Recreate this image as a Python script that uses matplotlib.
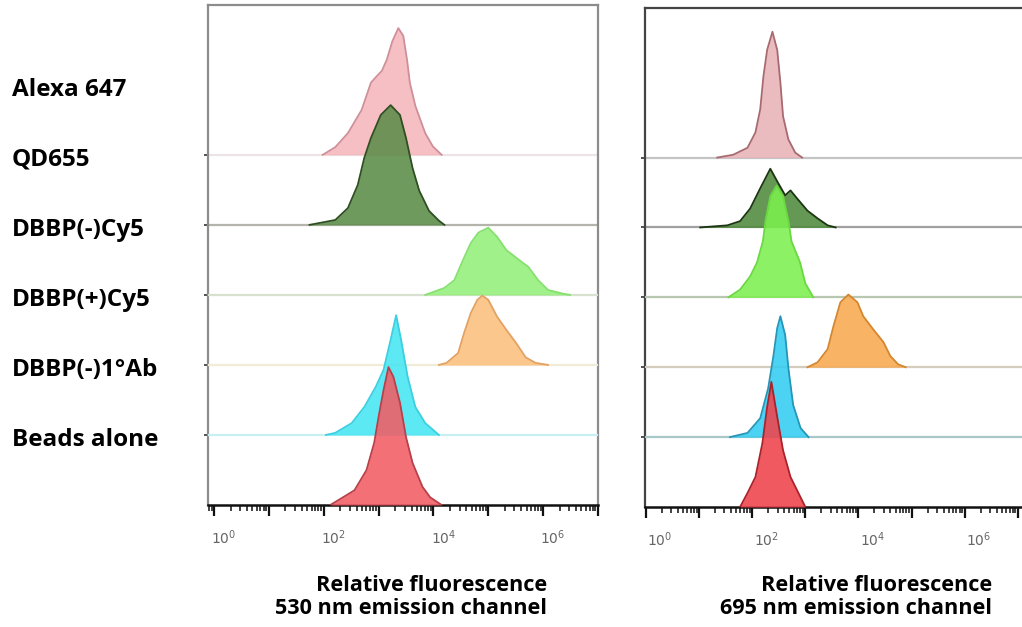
import matplotlib
matplotlib.use("Agg")
import matplotlib.pyplot as plt
from matplotlib import transforms
from matplotlib.ticker import LogLocator, NullFormatter

# sample names, top row first
labels = ["Alexa 647", "QD655", "DBBP(-)Cy5", "DBBP(+)Cy5", "DBBP(-)1°Ab", "Beads alone"]

# ---- 530 nm channel: (log10 fluorescence, height in row units) ----
alexa_530 = ([1.98, 2.21, 2.44, 2.69, 2.86, 2.95, 3.06, 3.15, 3.25, 3.36, 3.45, 3.52, 3.57, 3.67, 3.85, 3.99, 4.15],
             [0.00, 0.11, 0.31, 0.64, 1.03, 1.11, 1.20, 1.36, 1.62, 1.81, 1.70, 1.35, 1.03, 0.70, 0.31, 0.12, 0.00])
qd_530 = ([1.74, 2.21, 2.44, 2.62, 2.74, 2.86, 3.04, 3.22, 3.39, 3.50, 3.62, 3.74, 3.92, 4.10, 4.20],
          [0.00, 0.07, 0.24, 0.57, 0.96, 1.24, 1.57, 1.71, 1.57, 1.24, 0.81, 0.49, 0.20, 0.06, 0.00])
cy5m_530 = ([3.85, 4.20, 4.38, 4.54, 4.68, 4.82, 5.00, 5.16, 5.33, 5.56, 5.73, 5.91, 6.09, 6.35, 6.49],
            [0.00, 0.10, 0.21, 0.50, 0.74, 0.89, 0.96, 0.83, 0.64, 0.50, 0.40, 0.21, 0.07, 0.02, 0.00])
cy5p_530 = ([4.10, 4.24, 4.45, 4.56, 4.68, 4.80, 4.89, 5.00, 5.16, 5.33, 5.51, 5.68, 5.86, 6.09],
            [0.00, 0.03, 0.17, 0.46, 0.74, 0.93, 0.99, 0.93, 0.69, 0.50, 0.31, 0.11, 0.03, 0.00])
ab_530 = ([2.04, 2.21, 2.51, 2.74, 2.95, 3.09, 3.22, 3.32, 3.41, 3.53, 3.67, 3.85, 4.10],
          [0.00, 0.03, 0.17, 0.40, 0.69, 0.93, 1.36, 1.71, 1.36, 0.83, 0.40, 0.17, 0.00])
beads_530 = ([2.12, 2.33, 2.56, 2.78, 2.92, 3.00, 3.09, 3.18, 3.27, 3.39, 3.50, 3.62, 3.80, 3.94, 4.15],
             [0.00, 0.10, 0.21, 0.50, 0.89, 1.26, 1.64, 1.97, 1.83, 1.46, 0.97, 0.60, 0.26, 0.11, 0.00])

# ---- 695 nm channel ----
alexa_695 = ([1.34, 1.64, 1.91, 2.06, 2.15, 2.21, 2.28, 2.38, 2.47, 2.53, 2.58, 2.68, 2.81, 2.94],
             [0.00, 0.04, 0.14, 0.36, 0.69, 1.16, 1.54, 1.80, 1.54, 1.07, 0.59, 0.26, 0.07, 0.00])
qd_695 = ([1.02, 1.53, 1.77, 1.96, 2.15, 2.34, 2.47, 2.62, 2.72, 2.85, 3.04, 3.23, 3.42, 3.57],
          [0.00, 0.03, 0.09, 0.27, 0.56, 0.84, 0.66, 0.46, 0.53, 0.41, 0.24, 0.13, 0.03, 0.00])
cy5m_695 = ([1.55, 1.77, 1.96, 2.09, 2.20, 2.25, 2.34, 2.46, 2.58, 2.68, 2.74, 2.90, 3.00, 3.15],
            [0.00, 0.11, 0.30, 0.50, 0.80, 1.10, 1.45, 1.60, 1.45, 1.10, 0.80, 0.50, 0.20, 0.00])
cy5p_695 = ([3.04, 3.23, 3.42, 3.53, 3.66, 3.81, 3.98, 4.09, 4.28, 4.47, 4.60, 4.75, 4.89],
            [0.00, 0.07, 0.26, 0.59, 0.93, 1.04, 0.93, 0.73, 0.54, 0.36, 0.16, 0.04, 0.00])
ab_695 = ([1.58, 1.91, 2.15, 2.30, 2.40, 2.47, 2.53, 2.62, 2.68, 2.77, 2.91, 3.06],
          [0.00, 0.06, 0.27, 0.70, 1.17, 1.56, 1.73, 1.46, 0.99, 0.46, 0.13, 0.00])
beads_695 = ([1.77, 1.91, 2.06, 2.19, 2.28, 2.36, 2.47, 2.58, 2.72, 2.87, 3.00],
             [0.00, 0.20, 0.43, 0.91, 1.43, 1.79, 1.29, 0.81, 0.43, 0.20, 0.00])

curves_530 = [alexa_530, qd_530, cy5m_530, cy5p_530, ab_530, beads_530]
curves_695 = [alexa_695, qd_695, cy5m_695, cy5p_695, ab_695, beads_695]

fill_530 = ["#f4b6bc", "#5b8c48", "#94f07a", "#fcc07c", "#46e6f2", "#f25c64"]
edge_530 = ["#cf8f98", "#2f4f22", "#86e070", "#e2a263", "#3ccfe0", "#b8404a"]
fill_695 = ["#e9b3b7", "#4f8a3c", "#7cf04e", "#f9a94f", "#33cdf2", "#f0424a"]
edge_695 = ["#a86a70", "#1c3512", "#6ad842", "#d4862e", "#2596b8", "#a8232b"]
base_530 = ["#ece4e4", "#b4b4ac", "#d8e0d0", "#f0ecd8", "#c8f0f4"]
base_695 = ["#c4c4c4", "#a0a0a0", "#b8c8b0", "#d4ccbc", "#a8c8c8"]

decades = [0, 1, 2, 3, 4, 5, 6, 7]
dec_labels = [r"$10^{0}$", "", r"$10^{2}$", "", r"$10^{4}$", "", r"$10^{6}$", ""]
xlabels = ["Relative fluorescence\n530 nm emission channel",
           "Relative fluorescence\n695 nm emission channel"]

plt.rcParams["mathtext.fontset"] = "dejavusans"
fig = plt.figure(figsize=(10.22, 6.27), dpi=100)
W, H = 1022, 627
axL = fig.add_axes([208 / W, 1 - 505 / H, 390 / W, 500 / H])
axR = fig.add_axes([645 / W, 1 - 507 / H, 377 / W, 499 / H])

n = len(labels)


def panel(ax, curves, fills, edges, bases, xlim, frame, label_dx, xlabel, xlabel_x):
    for i, (lx, h) in enumerate(curves):
        row = n - 1 - i
        xs = [10 ** v for v in lx]
        ys = [row + v for v in h]
        ax.fill_between(xs, row, ys, color=fills[i], alpha=0.88, lw=0, zorder=2 + i)
        ax.plot(xs, ys, color=edges[i], lw=1.3, zorder=2.5 + i, solid_joinstyle="round")
    for j, c in enumerate(bases):
        ax.axhline(n - 1 - j, color=c, lw=1.6, zorder=1 + j)
    ax.set_xscale("log")
    ax.set_xlim(10 ** xlim[0], 10 ** xlim[1])
    ax.set_ylim(0, 7.14)
    ax.set_xticks([10 ** d for d in decades])
    ax.set_xticklabels(dec_labels)
    ax.xaxis.set_minor_locator(LogLocator(base=10, subs=range(2, 10), numticks=20))
    ax.xaxis.set_minor_formatter(NullFormatter())
    ax.tick_params(axis="x", which="major", length=8, width=1.6, color="#111111",
                   labelsize=10, labelcolor="#666666", pad=9)
    ax.tick_params(axis="x", which="minor", length=4, width=1.2, color="#222222")
    ax.set_yticks(range(1, n))
    ax.tick_params(axis="y", length=3, width=1.2, color="#333333", labelleft=False)
    off = transforms.ScaledTranslation(label_dx / 100, 0, fig.dpi_scale_trans)
    for t in ax.get_xticklabels():
        t.set_transform(t.get_transform() + off)
    for s in ["top", "left", "right"]:
        ax.spines[s].set_color(frame)
        ax.spines[s].set_linewidth(1.6)
    ax.spines["bottom"].set_color("#111111")
    ax.spines["bottom"].set_linewidth(1.8)
    fig.text(xlabel_x / W, 1 - 597 / H, xlabel, ha="right", va="center",
             multialignment="right", fontsize=15.6, fontweight="bold",
             family="Open Sans", linespacing=1.12)


panel(axL, curves_530, fill_530, edge_530, base_530, (-0.11, 6.76), "#8c8c8c", 10,
      xlabels[0], 547)
panel(axR, curves_695, fill_695, edge_695, base_695, (-0.02, 7.08), "#444444", 14,
      xlabels[1], 992)
axR.spines["right"].set_visible(False)

tr = transforms.blended_transform_factory(fig.transFigure, axL.transData)
for i, lab in enumerate(labels):
    row = n - 1 - i
    fig.text(12 / W, row + 0.93, lab, transform=tr, ha="left", va="center",
             fontsize=17.5, fontweight="bold", family="Open Sans")

fig.savefig("out.png", dpi=100)
